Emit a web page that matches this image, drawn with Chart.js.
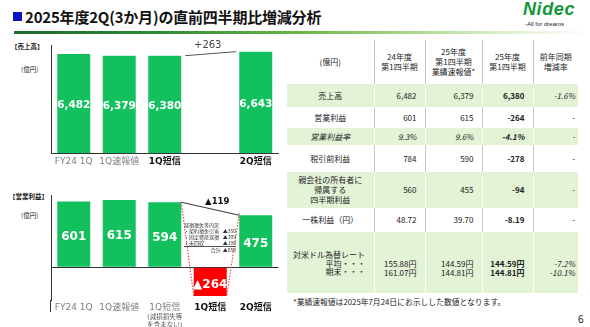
<!DOCTYPE html>
<html><head><meta charset="utf-8">
<script src="https://cdn.jsdelivr.net/npm/chart.js@4.4.1/dist/chart.umd.min.js"></script>
<style>
html,body{margin:0;padding:0;background:#fff;}
body{width:590px;height:327px;position:relative;overflow:hidden;font-family:"Noto Sans CJK JP","Noto Sans",sans-serif;color:#222;}
.abs{position:absolute;white-space:nowrap;}
#sq{left:13px;top:12px;width:9px;height:9px;background:#0a14c8;}
#title{left:25px;top:6px;font-size:15px;font-weight:bold;color:#111;line-height:22px;letter-spacing:-0.2px;}
#rule{left:14px;top:31px;width:576px;height:3px;background:linear-gradient(to right,#1d6a2b 0%,#2f8a35 25%,#6db54a 50%,#b5dc98 72%,#e4f2d8 88%,#ffffff 100%);}
#logo{left:523px;top:-1px;font-family:"Liberation Sans",Arial,sans-serif;font-weight:bold;font-style:italic;font-size:18px;color:#13973a;letter-spacing:0.6px;line-height:21px;}
#tag{left:525px;top:20px;font-family:"Liberation Sans",Arial,sans-serif;font-size:6px;color:#222;line-height:8px;}
.unit{font-size:6.5px;line-height:8px;color:#222;}
.cap{font-size:6.5px;line-height:8px;font-weight:bold;color:#222;}
#box{left:184px;top:222px;font-size:5px;line-height:6px;color:#333;}
#box .row{display:flex;justify-content:space-between;width:52px;}
#box .sep{border-bottom:0.6px solid #555;}
table{position:absolute;left:287px;top:40px;width:291px;border-collapse:collapse;table-layout:fixed;font-size:8px;line-height:10px;color:#222;}
td{padding:0;vertical-align:middle;}
td.lab{text-align:center;}
td.num{text-align:right;padding-right:8px;}
td.last{text-align:right;padding-right:3px;}
th{font-weight:normal;text-align:center;vertical-align:middle;padding:0;}
tr.g td{background:#e2f3d6;}
tr.head th+th{border-left:1px solid #c4c4c4;}
tr.w td+td{border-left:1px solid #c8c8c8;}
tr.g td+td{border-left:1px solid #ffffff;}
.b{font-weight:bold;}
.i{font-style:italic;}
#foot{left:293px;top:296px;font-size:7.8px;line-height:12px;color:#222;}
#pg{left:578px;top:313px;font-size:10px;line-height:12px;color:#222;}
</style></head>
<body>
<div class="abs" id="sq"></div>
<div class="abs" id="title">2025年度2Q(3か月)の直前四半期比増減分析</div>
<div class="abs" id="rule"></div>
<div class="abs" id="logo">Nidec</div>
<div class="abs" id="tag">-All for dreams</div>

<div class="abs cap" style="left:11px;top:42px;">【売上高】</div>
<div class="abs unit" style="left:21px;top:65px;">(億円)</div>
<div class="abs cap" style="left:9px;top:192px;">【営業利益】</div>
<div class="abs unit" style="left:21px;top:211px;">(億円)</div>

<div class="abs" style="left:40px;top:38px;"><canvas id="c1" width="245" height="136"></canvas></div>
<div class="abs" style="left:40px;top:188px;"><canvas id="c2" width="245" height="140"></canvas></div>
<div class="abs" id="box"></div>

<table id="tbl"></table>
<div class="abs" id="foot">*業績速報値は2025年7月24日にお示しした数値となります。</div>
<div class="abs" id="pg">6</div>

<script>
// ---- chart data ----
const salesCategories = ['FY24 1Q', '1Q速報値', '1Q短信', '', '2Q短信'];
const salesValues = [6482, 6379, 6380, null, 6643];
const salesBoldTicks = [false, false, true, false, true];

const profitCategories = ['FY24 1Q', '1Q速報値', '1Q短信', '1Q短信', '2Q短信'];
const profitValues = [601, 615, 594, -264, 475];
const profitBoldTicks = [false, false, false, true, true];
const profitSubLabel = ['(減損損失等', 'を含まない)'];

const impairmentTitle = '減損損失等内訳';
const impairmentItems = ['・契約損失引当', '・固定資産減損', '・未回収'];
const impairmentValues = [350, 309, 199];

// ---- table data ----
const tableHeads = [['(億円)'], ['24年度', '第1四半期'], ['25年度', '第1四半期', '業績速報値*'], ['25年度', '第1四半期'], ['前年同期', '増減率']];
const rowLabels = [['売上高'], ['営業利益'], ['営業利益率'], ['税引前利益'], ['親会社の所有者に', '帰属する', '四半期利益'], ['一株利益（円）'], ['対米ドル為替レート', '平均・・・', '期末・・・']];
const colFY24Q1 = [['6,482'], ['601'], ['9.3%'], ['784'], ['560'], ['48.72'], ['155.88円', '161.07円']];
const colFY25Q1Flash = [['6,379'], ['615'], ['9.6%'], ['590'], ['455'], ['39.70'], ['144.59円', '144.81円']];
const colFY25Q1 = [['6,380'], ['-264'], ['-4.1%'], ['-278'], ['-94'], ['-8.19'], ['144.59円', '144.81円']];
const colYoY = [['-1.6%'], ['-'], ['-'], ['-'], ['-'], ['-'], ['-7.2%', '-10.1%']];

// ---- styling ----
const GREEN = '#12c15d', RED = '#ff0000', INK = '#333333', GREY = '#808080';
const FAM = "'DejaVu Sans', 'Noto Sans CJK JP', sans-serif";

// table build
(function(){
  const rowHeights = [23, 21, 17, 27, 36, 24, 61];
  const rowTypes = ['g', 'w', 'g', 'w', 'g', 'w', 'g'];
  const italicRows = [false, false, true, false, false, false, false];
  let h = '<colgroup><col style="width:87px"><col style="width:51px"><col style="width:57px"><col style="width:51px"><col style="width:45px"></colgroup>';
  h += '<tr class="head" style="height:44px">' + tableHeads.map(l => '<th>' + l.join('<br>') + '</th>').join('') + '</tr>';
  rowLabels.forEach((lab, r) => {
    const it = italicRows[r] ? ' i' : '';
    const fx = r === 6;
    const labHtml = fx ? '<div style="text-align:left;padding-left:6px;line-height:8.5px;padding-top:19px">' + lab[0] + '<div style="text-align:right;padding-right:8px">' + lab[1] + '<br>' + lab[2] + '</div></div>' : lab.join('<br>');
    const cell = (v, cls) => '<td class="' + cls + it + '"' + (fx ? ' style="vertical-align:top;padding-top:28px;line-height:8.5px"' : '') + '>' + v.join('<br>') + '</td>';
    h += '<tr class="' + rowTypes[r] + '" style="height:' + rowHeights[r] + 'px">' +
      '<td class="lab' + it + '"' + (fx ? ' style="vertical-align:top"' : '') + '>' + labHtml + '</td>' +
      cell(colFY24Q1[r], 'num') + cell(colFY25Q1Flash[r], 'num') + cell(colFY25Q1[r], 'num b') + cell(colYoY[r], 'last' + (r === 0 || r === 6 ? ' i' : '')) + '</tr>';
  });
  document.getElementById('tbl').innerHTML = h;
})();

// impairment breakdown box
(function(){
  const total = impairmentValues.reduce((a, b) => a + b, 0);
  let h = '<div>' + impairmentTitle + '</div>';
  impairmentItems.forEach((t, i) => {
    h += '<div class="row' + (i === impairmentItems.length - 1 ? ' sep' : '') + '"><span>' + t + '</span><span>▲' + impairmentValues[i] + '</span></div>';
  });
  h += '<div class="row"><span></span><span>合計&nbsp;&nbsp;▲' + total + '</span></div>';
  document.getElementById('box').innerHTML = h;
})();

const fmt = v => v < 0 ? '▲' + Math.abs(v) : v.toLocaleString('en-US');

function valueLabels(size, dy) {
  return {
    id: 'valueLabels' + size,
    afterDatasetsDraw(chart) {
      const ctx = chart.ctx;
      const vals = chart.data.datasets[0].data;
      chart.getDatasetMeta(0).data.forEach((el, i) => {
        if (vals[i] == null) return;
        const p = el.getProps(['x', 'y', 'base'], true);
        ctx.save();
        ctx.fillStyle = '#ffffff';
        ctx.font = 'bold ' + size + 'px ' + FAM;
        ctx.textAlign = 'center';
        ctx.textBaseline = 'middle';
        ctx.fillText(fmt(vals[i]), p.x, (p.y + p.base) / 2 + dy);
        ctx.restore();
      });
    }
  };
}

const salesConnector = {
  id: 'salesConnector',
  afterDatasetsDraw(chart) {
    const ctx = chart.ctx, m = chart.getDatasetMeta(0).data;
    const a = m[2], b = m[4];
    const x1 = a.x + a.width / 2 + 4, y1 = a.y, x2 = b.x - b.width / 2 - 3, y2 = b.y;
    ctx.save();
    ctx.strokeStyle = '#555'; ctx.lineWidth = 1;
    ctx.beginPath(); ctx.moveTo(x1, y1); ctx.lineTo(x2, y2); ctx.stroke();
    ctx.fillStyle = '#444'; ctx.font = '10px ' + FAM; ctx.textAlign = 'center'; ctx.textBaseline = 'middle';
    ctx.fillText('+' + (salesValues[4] - salesValues[2]), (x1 + x2) / 2 - 3, (y1 + y2) / 2 - 8);
    ctx.restore();
  }
};

const profitConnector = {
  id: 'profitConnector',
  afterDatasetsDraw(chart) {
    const ctx = chart.ctx, m = chart.getDatasetMeta(0).data;
    const a = m[2], r = m[3], b = m[4];
    const ax = a.x + a.width / 2, bx = b.x - b.width / 2;
    const rb = Math.max(r.y, r.base);
    ctx.save();
    ctx.strokeStyle = '#333'; ctx.lineWidth = 1;
    ctx.beginPath(); ctx.moveTo(ax, a.y); ctx.lineTo(bx, b.y); ctx.stroke();
    ctx.strokeStyle = '#e03030'; ctx.setLineDash([1.5, 1.5]);
    ctx.beginPath(); ctx.moveTo(ax, a.y); ctx.lineTo(r.x - r.width / 2, rb);
    ctx.moveTo(bx, b.y - 2); ctx.lineTo(r.x + r.width / 2, rb); ctx.stroke();
    ctx.setLineDash([]);
    ctx.fillStyle = '#111'; ctx.font = 'bold 8.5px ' + FAM; ctx.textAlign = 'center'; ctx.textBaseline = 'middle';
    ctx.fillText(fmt(profitValues[4] - profitValues[2]), (ax + bx) / 2 + 7, (a.y + b.y) / 2 - 6.5);
    // y axis line continues below the chart area
    const ya = chart.scales.y;
    ctx.strokeStyle = INK;
    ctx.beginPath(); ctx.moveTo(ya.right - 0.5, chart.chartArea.bottom); ctx.lineTo(ya.right - 0.5, chart.chartArea.bottom + 12); ctx.stroke();
    // sub label under third category
    const sx = chart.scales.x.getPixelForTick(2);
    ctx.fillStyle = '#555'; ctx.font = '6.5px ' + FAM;
    profitSubLabel.forEach((t, i) => ctx.fillText(t, sx, 129 + i * 8));
    ctx.restore();
  }
};

function tickOpts(boldArr) {
  return {
    padding: 3, maxRotation: 0, autoSkip: false,
    color: c => boldArr[c.index] ? '#111' : GREY,
    font: c => ({ family: FAM, size: 9, weight: boldArr[c.index] ? 'bold' : 'normal' })
  };
}

new Chart(document.getElementById('c1'), {
  type: 'bar',
  data: { labels: salesCategories, datasets: [{ data: salesValues, backgroundColor: GREEN, barPercentage: 0.725, categoryPercentage: 1 }] },
  options: {
    responsive: false, animation: false, devicePixelRatio: 1,
    layout: { padding: { top: 7, right: 6.5, left: 0, bottom: 0 } },
    plugins: { legend: { display: false }, tooltip: { enabled: false } },
    scales: {
      x: { grid: { display: false, drawTicks: false }, border: { display: true, color: INK, width: 1 }, ticks: tickOpts(salesBoldTicks), afterFit: s => { s.height = 21; } },
      y: { min: 0, max: 7080, grid: { display: false, drawTicks: false }, border: { display: true, color: INK, width: 1 }, ticks: { display: false }, afterFit: s => { s.width = 11; } }
    }
  },
  plugins: [valueLabels(10.5, 1.5), salesConnector]
});

new Chart(document.getElementById('c2'), {
  type: 'bar',
  data: { labels: profitCategories, datasets: [{ data: profitValues, backgroundColor: profitValues.map(v => v < 0 ? RED : GREEN), barPercentage: 0.725, categoryPercentage: 1 }] },
  options: {
    responsive: false, animation: false, devicePixelRatio: 1,
    layout: { padding: { top: 7, right: 6.5, left: 0, bottom: 0 } },
    plugins: { legend: { display: false }, tooltip: { enabled: false } },
    scales: {
      x: { grid: { display: false, drawTicks: false }, border: { display: false }, ticks: Object.assign(tickOpts(profitBoldTicks), { padding: 2 }), afterFit: s => { s.height = 28; } },
      y: { min: -300, max: 660, ticks: { display: false, stepSize: 60 },
           grid: { drawTicks: false, color: c => c.tick && c.tick.value === 0 ? INK : 'rgba(0,0,0,0)', lineWidth: 1 },
           border: { display: true, color: INK, width: 1 }, afterFit: s => { s.width = 11; } }
    }
  },
  plugins: [valueLabels(12, 3), profitConnector]
});
</script>
</body></html>
